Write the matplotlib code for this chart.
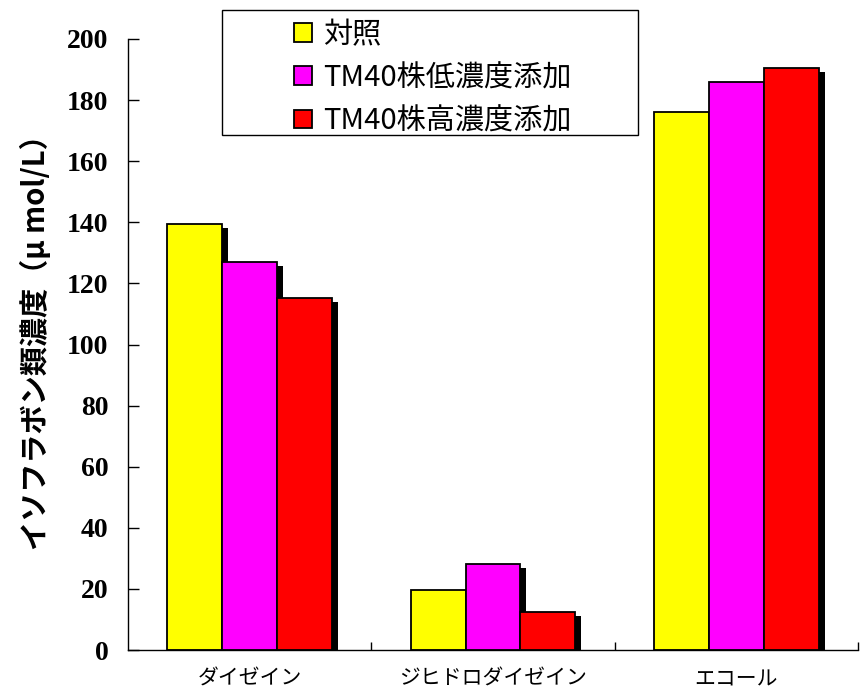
import matplotlib
matplotlib.use('Agg')
import matplotlib.pyplot as plt
import numpy as np
from matplotlib.transforms import ScaledTranslation
from matplotlib.patches import Rectangle

categories = ['ダイゼイン', 'ジヒドロダイゼイン', 'エコール']
series_names = ['対照', 'TM40株低濃度添加', 'TM40株高濃度添加']
control = [139.4, 19.6, 176.0]
low_dose = [126.9, 28.1, 185.9]
high_dose = [115.1, 12.4, 190.4]
colors = ['#FFFF00', '#FF00FF', '#FF0000']
yticks = [0, 20, 40, 60, 80, 100, 120, 140, 160, 180, 200]
ylabel = 'イソフラボン類濃度（μ mol/L）'

JP = ['Noto Sans CJK JP', 'DejaVu Sans']

fig = plt.figure(figsize=(8.66, 6.93), dpi=100)
ax = fig.add_axes([128/866, 43/693, 730/866, 611/693])

x = np.arange(len(categories)) + 0.5
width = 0.226
series = [control, low_dose, high_dose]
shadow_tr = ax.transData + ScaledTranslation(6/100, -4/100, fig.dpi_scale_trans)

for i, (vals, c, name) in enumerate(zip(series, colors, series_names)):
    pos = x + (i - 1) * width
    ax.bar(pos, vals, width, color='black', linewidth=0, transform=shadow_tr, zorder=1)
    ax.bar(pos, vals, width, color=c, edgecolor='black', linewidth=1.3, zorder=2, label=name)

ax.set_xlim(0, 3)
ax.set_ylim(0, 200)
for s in ['top', 'right']:
    ax.spines[s].set_visible(False)
for s in ['left', 'bottom']:
    ax.spines[s].set_linewidth(1.0)

ax.set_yticks(yticks)
ax.set_yticklabels([str(v) for v in yticks], family='Liberation Serif', fontweight='bold', fontsize=20)
ax.tick_params(axis='y', direction='in', length=8, width=1, pad=14)

ax.set_xticks([1, 2, 3])
ax.set_xticklabels(['', '', ''])
ax.tick_params(axis='x', which='major', direction='in', length=6, width=1)
ax.set_xticks(x, minor=True)
ax.set_xticklabels(categories, minor=True, family=JP, fontsize=15)
ax.tick_params(axis='x', which='minor', length=0, pad=13)

ax.set_ylabel(ylabel, family=JP, fontweight='bold', fontsize=21)
ax.yaxis.set_label_coords(-0.105, 0.516)

fig.patches.append(Rectangle((222/866, 1 - 135/693), 416/866, 125/693,
                             transform=fig.transFigure, fill=False,
                             edgecolor='black', linewidth=1.0))
leg = fig.legend(loc='upper left', bbox_to_anchor=(294/866, 1 - 20/693),
                 frameon=False, borderpad=0, borderaxespad=0,
                 handlelength=0.62, handleheight=0.62, handletextpad=0.38,
                 labelspacing=0.45, prop={'family': JP, 'size': 21})

fig.savefig('out.png', dpi=100)
